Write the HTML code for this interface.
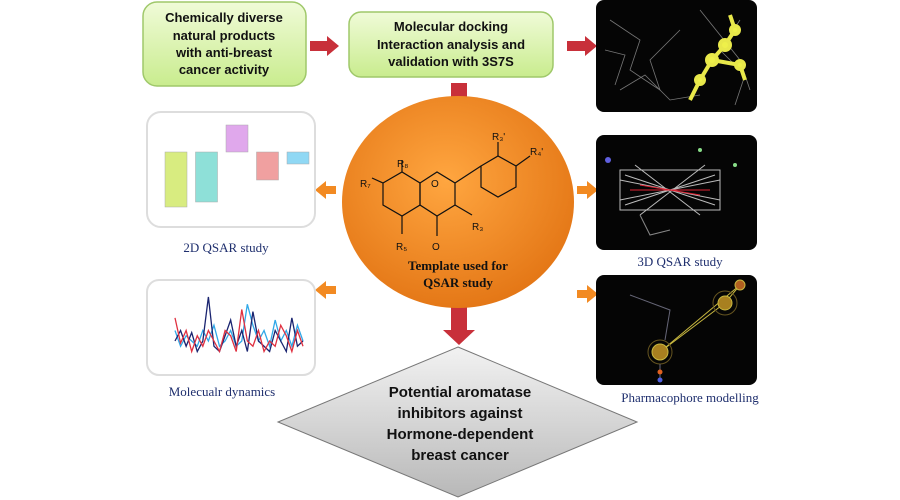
<!DOCTYPE html>
<html><head><meta charset="utf-8"><style>
html,body{margin:0;padding:0;background:#fff;width:900px;height:500px;overflow:hidden}
svg{display:block}
.b{font-family:"Liberation Sans",sans-serif;font-weight:bold;fill:#111;text-anchor:middle}
.s{font-family:"Liberation Serif",serif;fill:#1f2f6e;text-anchor:middle;font-size:13px}
</style></head><body>
<svg width="900" height="500" viewBox="0 0 900 500">
<defs>
<linearGradient id="gr" x1="0" y1="0" x2="0" y2="1"><stop offset="0" stop-color="#f0fbd8"/><stop offset="1" stop-color="#c9ec8e"/></linearGradient>
<radialGradient id="og" cx="0.45" cy="0.4" r="0.7"><stop offset="0" stop-color="#ffa640"/><stop offset="1" stop-color="#e07010"/></radialGradient>
<linearGradient id="dg" x1="0" y1="0" x2="0" y2="1"><stop offset="0" stop-color="#f2f2f2"/><stop offset="1" stop-color="#b8b8b8"/></linearGradient>
</defs>
<g>
<rect x="143" y="2" width="163" height="84" rx="14" fill="url(#gr)" stroke="#9fc86a" stroke-width="1.5"/>
<text class="b" font-size="13"><tspan x="224" y="22">Chemically diverse</tspan><tspan x="224" y="40">natural products</tspan><tspan x="224" y="57">with anti-breast</tspan><tspan x="224" y="74">cancer activity</tspan></text>
</g>
<g>
<rect x="349" y="12" width="204" height="65" rx="12" fill="url(#gr)" stroke="#9fc86a" stroke-width="1.5"/>
<text class="b" font-size="13"><tspan x="451" y="31">Molecular docking</tspan><tspan x="451" y="49">Interaction analysis and</tspan><tspan x="451" y="66">validation with 3S7S</tspan></text>
</g>
<g fill="#c8303a">
<polygon points="310,41 327,41 327,36 339,46 327,56 327,51 310,51"/>
<polygon points="567,41 585,41 585,36 597,46 585,56 585,51 567,51"/>
<polygon points="451,83 467,83 467,117 475,117 459,132 443,117 451,117"/>
<polygon points="451,296 467,296 467,330 475,330 459,345 443,330 451,330"/>
</g>
<g fill="#f28a22">
<polygon points="336,186 326,186 326,181 315,190 326,199 326,194 336,194"/>
<polygon points="336,286 326,286 326,281 315,290 326,299 326,294 336,294"/>
<polygon points="577,186 587,186 587,181 598,190 587,199 587,194 577,194"/>
<polygon points="577,290 587,290 587,285 598,294 587,303 587,298 577,298"/>
</g>
<rect x="596" y="0" width="161" height="112" rx="8" fill="#050505"/>
<g stroke="#777" stroke-width="0.8" fill="none"><polyline points="610,20 640,40 630,70 660,90 650,60 680,30"/><polyline points="700,10 740,60 750,90"/><polyline points="620,90 645,75 670,100 700,95"/><polyline points="740,20 720,50 745,75 735,105"/><polyline points="605,50 625,55 615,85"/></g>
<g stroke="#e8e84a" stroke-width="4" fill="#eef04a"><polyline points="690,100 700,80 712,60 725,45 735,30 730,15" fill="none"/><polyline points="712,60 740,65 745,80" fill="none"/><circle cx="700" cy="80" r="4"/><circle cx="712" cy="60" r="5"/><circle cx="725" cy="45" r="5"/><circle cx="735" cy="30" r="4"/><circle cx="740" cy="65" r="4"/></g>
<rect x="596" y="135" width="161" height="115" rx="8" fill="#050505"/>
<g stroke="#bbb" stroke-width="1" fill="none"><rect x="620" y="170" width="100" height="40"/><line x1="620" y1="180" x2="720" y2="200"/><line x1="620" y1="200" x2="720" y2="180"/><line x1="625" y1="175" x2="715" y2="205"/><line x1="625" y1="205" x2="715" y2="175"/><line x1="635" y1="165" x2="700" y2="215"/><line x1="640" y1="215" x2="705" y2="165"/><line x1="630" y1="190" x2="710" y2="190" stroke="#d23"/><line x1="640" y1="185" x2="700" y2="195" stroke="#d23"/><polyline points="640,215 650,235 670,230" stroke="#888"/></g>
<g><circle cx="608" cy="160" r="3" fill="#6060e0"/><circle cx="700" cy="150" r="2" fill="#8d8"/><circle cx="735" cy="165" r="2" fill="#8d8"/></g>
<text x="680" y="266" class="s">3D QSAR study</text>
<rect x="596" y="275" width="161" height="110" rx="8" fill="#050505"/>
<g stroke="#c8b840" stroke-width="1" fill="none"><line x1="725" y1="303" x2="740" y2="285"/><line x1="660" y1="352" x2="740" y2="285"/><line x1="660" y1="352" x2="725" y2="303"/><circle cx="725" cy="303" r="7" fill="#a88020"/><circle cx="660" cy="352" r="8" fill="#a88020"/><circle cx="740" cy="285" r="5" fill="#b06020"/><polyline points="630,295 670,310 665,340" stroke="#667"/><circle cx="725" cy="303" r="12" stroke="#665520"/><circle cx="660" cy="352" r="12" stroke="#665520"/><line x1="660" y1="364" x2="660" y2="378" stroke="#667"/><circle cx="660" cy="372" r="2.5" fill="#e06020" stroke="none"/><circle cx="660" cy="380" r="2.5" fill="#5060e0" stroke="none"/></g>
<text x="690" y="402" class="s">Pharmacophore modelling</text>
<g>
<ellipse cx="458" cy="202" rx="116" ry="106" fill="url(#og)"/>
<g stroke="#111" stroke-width="1.2" fill="none">
<polygon points="383,183 402,172 420,183 420,205 402,216 383,205"/>
<polygon points="420,183 437,172 455,183 455,205 437,216 420,205"/>
<polygon points="481,166 498,156 516,166 516,187 498,197 481,187"/>
<line x1="455" y1="183" x2="481" y2="166"/><line x1="437" y1="216" x2="437" y2="236"/><line x1="455" y1="205" x2="472" y2="215"/>
<line x1="402" y1="172" x2="402" y2="160"/><line x1="383" y1="183" x2="372" y2="178"/><line x1="402" y1="216" x2="402" y2="234"/>
<line x1="498" y1="156" x2="498" y2="142"/><line x1="516" y1="166" x2="530" y2="156"/>
</g>
<g font-family="Liberation Sans,sans-serif" font-size="10" fill="#111">
<text x="397" y="167">R₈</text><text x="360" y="187">R₇</text><text x="396" y="250">R₅</text><text x="432" y="250">O</text><text x="472" y="230">R₃</text><text x="431" y="187">O</text><text x="492" y="140">R₃'</text><text x="530" y="155">R₄'</text>
</g>
<text font-family="Liberation Serif,serif" font-weight="bold" font-size="13" fill="#111" text-anchor="middle"><tspan x="458" y="270">Template used for</tspan><tspan x="458" y="287">QSAR study</tspan></text>
</g>
<g>
<rect x="147" y="112" width="168" height="115" rx="14" fill="#fff" stroke="#ddd" stroke-width="2"/>
<g id="bars"></g>
</g>
<text x="226" y="252" class="s">2D QSAR study</text>
<g>
<rect x="147" y="280" width="168" height="95" rx="12" fill="#fff" stroke="#ddd" stroke-width="2"/>
<g id="md"></g>
</g>
<text x="222" y="396" class="s">Molecualr dynamics</text>
<g>
<polygon points="458,347 637,422 458,497 278,422" fill="url(#dg)" stroke="#777" stroke-width="1"/>
<text class="b" font-size="15"><tspan x="460" y="397">Potential aromatase</tspan><tspan x="460" y="418">inhibitors against</tspan><tspan x="460" y="439">Hormone-dependent</tspan><tspan x="460" y="460">breast cancer</tspan></text>
</g>
</svg>
<script>
const barLabels=['b1','b2','b3','b4','b5'];
const barValues=[-55,-50,27,-28,-12];
const barColors=['#d8ec80','#8ee0d8','#e0a8ec','#f0a0a0','#90d8f4'];
const mdDark=[0.2,0.3,0.15,0.28,0.1,0.2,0.62,0.15,0.1,0.25,0.4,0.15,0.3,0.1,0.48,0.2,0.15,0.1,0.3,0.2,0.1,0.42,0.15,0.2];
const mdRed=[0.42,0.18,0.3,0.1,0.25,0.15,0.3,0.2,0.1,0.3,0.25,0.1,0.5,0.2,0.15,0.3,0.1,0.2,0.15,0.35,0.25,0.1,0.3,0.15];
const mdBlue=[0.3,0.15,0.25,0.2,0.15,0.3,0.2,0.35,0.15,0.2,0.3,0.15,0.2,0.55,0.35,0.2,0.3,0.15,0.4,0.2,0.3,0.15,0.35,0.2];
const NS='http://www.w3.org/2000/svg';
const bx=i=>165+i*30.5, by=v=>152-v;
const bg=document.getElementById('bars');
barValues.forEach((v,i)=>{const r=document.createElementNS(NS,'rect');
r.setAttribute('x',bx(i));r.setAttribute('width',22);
r.setAttribute('y',Math.min(by(v),by(0)));r.setAttribute('height',Math.abs(v));
r.setAttribute('fill',barColors[i]);r.setAttribute('stroke','#aaa');r.setAttribute('stroke-width','0.5');


bg.appendChild(r);});
const mx=(i,n)=>175+i*(128/(n-1)), my=v=>362-v*105;
const mg=document.getElementById('md');
[[mdBlue,'#30a8e8'],[mdDark,'#1a2470'],[mdRed,'#e03040']].forEach(([s,c],k)=>{
const p=document.createElementNS(NS,'polyline');
p.setAttribute('points',s.map((v,i)=>mx(i,s.length)+','+my(v)).join(' '));
p.setAttribute('fill','none');p.setAttribute('stroke',c);p.setAttribute('stroke-width','1.3');


mg.appendChild(p);});
</script>
</body></html>
